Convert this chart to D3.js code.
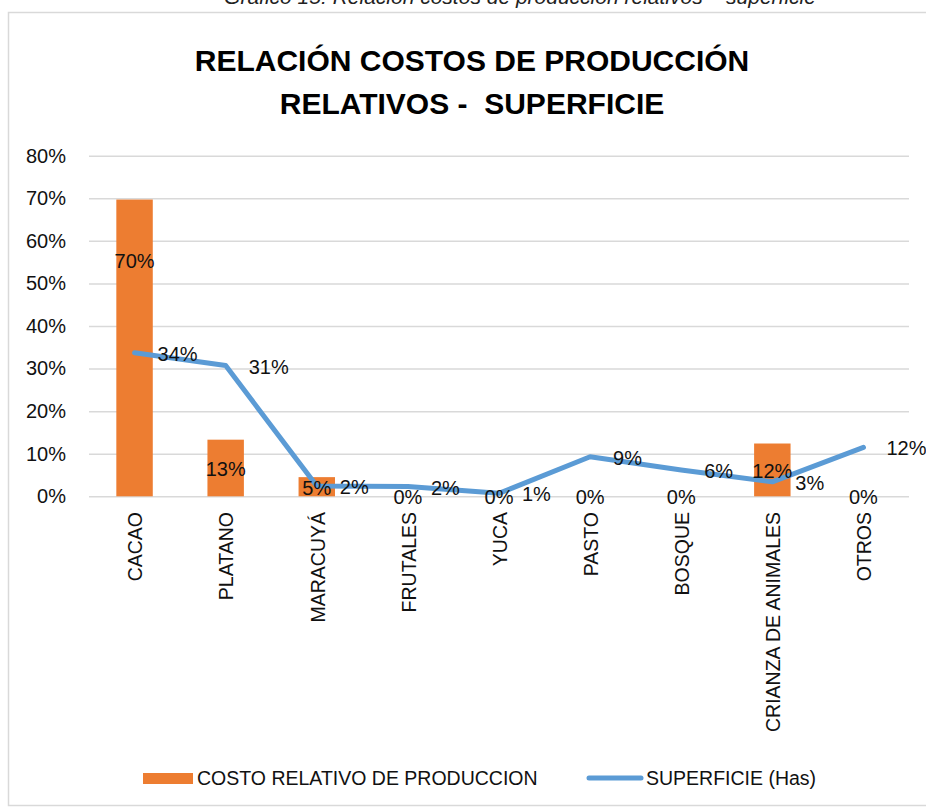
<!DOCTYPE html>
<html>
<head>
<meta charset="utf-8">
<script src="https://cdn.jsdelivr.net/npm/d3@7"></script>
<style>
  body { margin: 0; background: #fff; }
  text { font-family: "Liberation Sans", Arial, sans-serif; }
</style>
</head>
<body>
<svg id="chart" width="926" height="809"></svg>
<script>
(function() {

var categories = ['CACAO', 'PLATANO', 'MARACUYÁ', 'FRUTALES', 'YUCA', 'PASTO', 'BOSQUE', 'CRIANZA DE ANIMALES', 'OTROS']
var costo = [0.697, 0.133, 0.045, 0, 0, 0, 0, 0.124, 0]
var superficie = [0.337, 0.307, 0.024, 0.023, 0.007, 0.093, 0.062, 0.034, 0.115]
var y_ticks = [0, 0.1, 0.2, 0.3, 0.4, 0.5, 0.6, 0.7, 0.8]

var series_names = ['COSTO RELATIVO DE PRODUCCION', 'SUPERFICIE (Has)']
var title_lines = ['RELACIÓN COSTOS DE PRODUCCIÓN', 'RELATIVOS -  SUPERFICIE']
var caption = 'Gráfico 15: Relación costos de producción relativos – superficie'

var orange = '#ED7D31'
var blue = '#5B9BD5'
var pct = d3.format('.0%')

var svg = d3.select('#chart')

svg.append('text')
    .attr('x', 520)
    .attr('y', 4)
    .attr('text-anchor', 'middle')
    .style('font-style', 'italic')
    .style('font-size', '21px')
    .attr('fill', '#222')
    .text(caption)

svg.append('rect')
    .attr('x', 8.5)
    .attr('y', 12.5)
    .attr('width', 940)
    .attr('height', 793)
    .attr('fill', '#fff')
    .attr('stroke', '#D9D9D9')
    .attr('stroke-width', 1.5)

svg.selectAll('.title')
    .data(title_lines)
    .join('text')
    .attr('class', 'title')
    .attr('x', 472)
    .attr('y', (d, i) => 71 + i * 43)
    .attr('text-anchor', 'middle')
    .style('font-size', '30px')
    .style('font-weight', 'bold')
    .style('white-space', 'pre')
    .attr('fill', '#000')
    .text(d => d)

var x = d3.scaleBand().domain(categories).range([89, 909]).padding(0)
var y = d3.scaleLinear().domain([0, 0.8]).range([496.3, 155.7])
var bw = x.bandwidth() * 0.4
var cx = d => x(d) + x.bandwidth() / 2

// gridlines + y labels
var yAxis = svg.append('g')
    .attr('transform', 'translate(89,0)')
    .call(d3.axisLeft(y).tickValues(y_ticks).tickFormat(pct).tickSize(-820).tickPadding(23))
yAxis.select('.domain').remove()
yAxis.selectAll('line').attr('stroke', '#D9D9D9').attr('stroke-width', 1.5)
yAxis.selectAll('text')
    .attr('fill', '#111')
    .style('font-size', '20px')
    .style('font-family', '"Liberation Sans", Arial, sans-serif')

svg.append('g')
    .selectAll('rect')
    .data(categories)
    .join('rect')
    .attr('x', d => cx(d) - bw / 2)
    .attr('width', bw)
    .attr('y', (d, i) => y(costo[i]))
    .attr('height', (d, i) => y(0) - y(costo[i]))
    .attr('fill', orange)

var line = d3.line()
    .x((d, i) => cx(categories[i]))
    .y(d => y(d))

svg.append('path')
    .datum(superficie)
    .attr('d', line)
    .attr('fill', 'none')
    .attr('stroke', blue)
    .attr('stroke-width', 5)
    .attr('stroke-linejoin', 'round')
    .attr('stroke-linecap', 'round')

// category labels
svg.append('g')
    .selectAll('text')
    .data(categories)
    .join('text')
    .attr('transform', d => 'translate(' + (cx(d) + 1) + ',512) rotate(-90)')
    .attr('text-anchor', 'end')
    .attr('dy', '0.35em')
    .style('font-size', '19.5px')
    .attr('fill', '#111')
    .text(d => d)

// bar labels, centred in bar (CACAO one was moved up in the original)
var bar_nudge = {CACAO: -88}
svg.append('g')
    .selectAll('text')
    .data(categories)
    .join('text')
    .attr('x', d => cx(d))
    .attr('y', (d, i) => (y(costo[i]) + y(0)) / 2 + (bar_nudge[d] || 0) + 1)
    .attr('text-anchor', 'middle')
    .attr('dy', '0.35em')
    .style('font-size', '20px')
    .attr('fill', '#111')
    .text((d, i) => pct(costo[i]))

// line labels, right of point
svg.append('g')
    .selectAll('text')
    .data(categories)
    .join('text')
    .attr('x', d => cx(d) + 23)
    .attr('y', (d, i) => y(superficie[i]) + 1)
    .attr('dy', '0.35em')
    .style('font-size', '20px')
    .attr('fill', '#111')
    .text((d, i) => pct(superficie[i]))

// legend
var legend = svg.append('g')
legend.append('rect')
    .attr('x', 143)
    .attr('y', 773)
    .attr('width', 50)
    .attr('height', 11)
    .attr('fill', orange)
legend.append('line')
    .attr('x1', 589).attr('x2', 641)
    .attr('y1', 778).attr('y2', 778)
    .attr('stroke', blue)
    .attr('stroke-width', 5)
    .attr('stroke-linecap', 'round')
legend.selectAll('text')
    .data(series_names)
    .join('text')
    .attr('x', (d, i) => i == 0 ? 197 : 646)
    .attr('y', 778)
    .attr('dy', '0.35em')
    .style('font-size', '19.5px')
    .attr('fill', '#111')
    .text(d => d)

})()
</script>
</body>
</html>
